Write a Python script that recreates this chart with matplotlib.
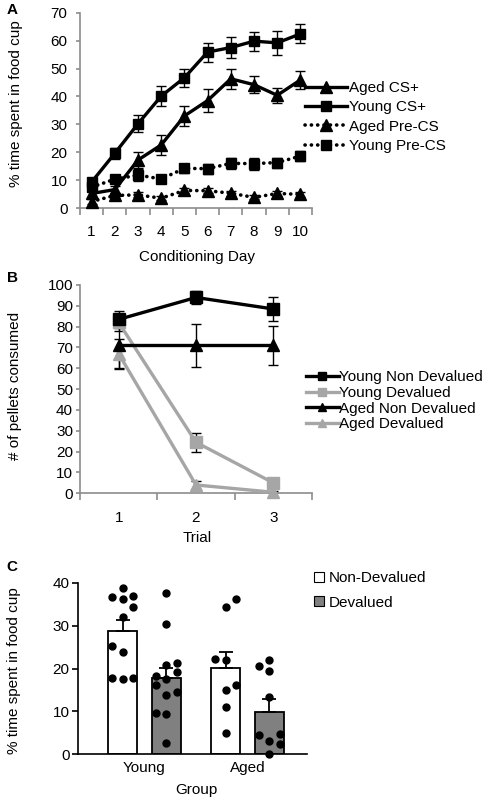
import numpy as np
import matplotlib
matplotlib.use("Agg")
import matplotlib.pyplot as plt
from matplotlib.patches import Patch

plt.rcParams['font.family'] = ['Liberation Sans', 'DejaVu Sans']
plt.rcParams['font.size'] = 11

# ---------------- Panel A data ----------------
days = [1, 2, 3, 4, 5, 6, 7, 8, 9, 10]
aged_cs = [5.2, 6.6, 17.2, 22.6, 33.0, 38.5, 46.3, 44.2, 40.4, 45.9]
aged_cs_err = [1.2, 1.2, 2.8, 3.5, 3.6, 4.0, 3.5, 3.1, 2.7, 3.1]
young_cs = [9.3, 19.6, 30.2, 40.1, 46.7, 55.9, 57.5, 59.8, 59.2, 62.4]
young_cs_err = [1.5, 2.0, 3.0, 3.5, 3.2, 3.4, 3.7, 3.4, 4.2, 3.4]
aged_pre = [2.3, 4.5, 4.7, 3.5, 6.3, 6.2, 5.3, 3.8, 5.2, 4.9]
aged_pre_err = [0.8, 0.8, 0.9, 0.7, 1.0, 1.0, 0.9, 0.7, 0.9, 0.9]
young_pre = [7.5, 10.3, 11.8, 10.4, 14.2, 14.1, 16.0, 15.9, 16.3, 18.6]
young_pre_err = [1.5, 1.5, 2.0, 1.5, 1.5, 1.8, 2.0, 2.2, 1.8, 1.8]

# ---------------- Panel B data ----------------
trials = [1, 2, 3]
young_nd = [83.5, 94.0, 88.5]
young_nd_err = [4.0, 3.3, 5.8]
young_d = [82.0, 24.5, 5.0]
young_d_err = [4.0, 4.5, 1.5]
aged_nd = [71.0, 71.0, 71.0]
aged_nd_err = [11.5, 10.5, 9.3]
aged_d = [67.0, 4.0, 0.5]
aged_d_err = [7.0, 2.0, 0.5]

# ---------------- Panel C data ----------------
groups = ['Young', 'Aged']
nd_means = [28.8, 20.2]
nd_sem = [2.5, 3.7]
d_means = [17.7, 9.9]
d_sem = [2.5, 3.0]
young_nd_pts = [38.7, 37.0, 36.6, 36.2, 34.3, 32.1, 25.3, 23.8, 17.7, 17.5, 17.7]
young_nd_cols = [0, 1, -1, 0, 1, 0, -1, 0, -1, 0, 1]
young_d_pts = [37.5, 30.3, 20.8, 21.2, 19.1, 18.3, 17.6, 16.2, 14.6, 13.8, 9.7, 9.4, 2.6]
young_d_cols = [0, 0, 0, 1, 1, -1, 0, -1, 1, 0, -1, 0, 0]
aged_nd_pts = [36.2, 34.4, 22.2, 22.0, 16.2, 15.1, 11.1, 4.9]
aged_nd_cols = [1, 0, -1, 0, 1, 0, 0, 0]
aged_d_pts = [22.0, 20.6, 19.4, 13.4, 4.5, 4.7, 3.1, 2.3, 0.1]
aged_d_cols = [0, -1, 0, 0, -1, 1, 0, 1, 0]

W, H = 490, 802
fig = plt.figure(figsize=(W / 100, H / 100), dpi=100)
AX_GRAY = '#8c8c8c'
LGRAY = '#a6a6a6'


def px_axes(left, top, right, bottom):
    return fig.add_axes([left / W, 1 - bottom / H, (right - left) / W, (bottom - top) / H])


def excel_style(ax, n):
    for s in ['top', 'right']:
        ax.spines[s].set_visible(False)
    for s in ['left', 'bottom']:
        ax.spines[s].set_color(AX_GRAY)
        ax.spines[s].set_linewidth(1.2)
    ax.set_xlim(0.5, n + 0.5)
    ax.set_xticks(np.arange(1, n + 1))
    ax.set_xticks(np.arange(0.5, n + 1), minor=True)
    ax.tick_params(axis='x', which='major', length=0, pad=12, labelsize=11)
    ax.tick_params(axis='x', which='minor', length=5, color=AX_GRAY, width=1.2, direction='out')
    ax.tick_params(axis='y', length=3, color=AX_GRAY, width=1.2, direction='out', pad=6, labelsize=11)


# ---------------- Panel A ----------------
axA = px_axes(80, 12.7, 312, 208)
excel_style(axA, len(days))
axA.set_ylim(0, 70)
axA.set_yticks(np.arange(0, 71, 10))

err_kw = dict(ecolor='black', elinewidth=1.0, capsize=3.5, capthick=1.0, zorder=2)
dot_ls = (0, (0.05, 1.7))
axA.errorbar(days, young_pre, yerr=young_pre_err, fmt='none', **err_kw)
axA.errorbar(days, aged_pre, yerr=aged_pre_err, fmt='none', **err_kw)
axA.errorbar(days, aged_cs, yerr=aged_cs_err, fmt='none', **err_kw)
axA.errorbar(days, young_cs, yerr=young_cs_err, fmt='none', **err_kw)
lA1, = axA.plot(days, aged_cs, '-', color='black', lw=2.4, marker='^', ms=8, label='Aged CS+', zorder=3, clip_on=False)
lA2, = axA.plot(days, young_cs, '-', color='black', lw=2.4, marker='s', ms=7.5, label='Young CS+', zorder=3, clip_on=False)
lA3, = axA.plot(days, aged_pre, linestyle=dot_ls, color='black', lw=2.6, dash_capstyle='round',
                marker='^', ms=8, label='Aged Pre-CS', zorder=3, clip_on=False)
lA4, = axA.plot(days, young_pre, linestyle=dot_ls, color='black', lw=2.6, dash_capstyle='round',
                marker='s', ms=7.5, label='Young Pre-CS', zorder=3, clip_on=False)
axA.set_xlabel('Conditioning Day', fontsize=11)
axA.xaxis.set_label_coords(0.503, -0.215)
axA.set_ylabel('% time spent in food cup', fontsize=11)
axA.yaxis.set_label_coords(-0.245, 0.535)
fig.legend(handles=[lA1, lA2, lA3, lA4], loc='upper left',
           bbox_to_anchor=(305 / W, 1 - 81 / H), frameon=False, fontsize=11,
           handlelength=2.75, handletextpad=0.15, labelspacing=0.35, borderpad=0,
           borderaxespad=0)

# ---------------- Panel B ----------------
axB = px_axes(80, 285, 312, 493.3)
excel_style(axB, len(trials))
axB.set_ylim(0, 100)
axB.set_yticks(np.arange(0, 101, 10))
axB.tick_params(axis='y', pad=2)
axB.tick_params(axis='x', which='major', pad=13)
errB = dict(ecolor='black', elinewidth=1.0, capsize=3.5, capthick=1.0, zorder=2)
axB.errorbar(trials, aged_nd, yerr=aged_nd_err, fmt='none', **errB)
axB.errorbar(trials, young_nd, yerr=young_nd_err, fmt='none', **errB)
axB.errorbar(trials, young_d, yerr=young_d_err, fmt='none', **errB)
axB.errorbar(trials, aged_d, yerr=aged_d_err, fmt='none', **errB)
lB4, = axB.plot(trials, aged_d, '-', color=LGRAY, lw=2.4, marker='^', ms=8, label='Aged Devalued', zorder=3, clip_on=False)
lB2, = axB.plot(trials, young_d, '-', color=LGRAY, lw=2.4, marker='s', ms=8, label='Young Devalued', zorder=3, clip_on=False)
lB3, = axB.plot(trials, aged_nd, '-', color='black', lw=2.4, marker='^', ms=8, label='Aged Non Devalued', zorder=4, clip_on=False)
lB1, = axB.plot(trials, young_nd, '-', color='black', lw=2.4, marker='s', ms=8, label='Young Non Devalued', zorder=4, clip_on=False)
axB.set_xlabel('Trial', fontsize=11)
axB.xaxis.set_label_coords(0.503, -0.18)
axB.set_ylabel('# of pellets consumed', fontsize=11)
axB.yaxis.set_label_coords(-0.25, 0.517)
fig.legend(handles=[lB1, lB2, lB3, lB4], loc='upper left',
           bbox_to_anchor=(306 / W, 1 - 370.5 / H), frameon=False, fontsize=11,
           handlelength=2.15, handletextpad=0.0, labelspacing=0.1, borderpad=0,
           borderaxespad=0, markerscale=0.8)

# ---------------- Panel C ----------------
axC = px_axes(78, 582.7, 307, 754.3)
for s in ['top', 'right']:
    axC.spines[s].set_visible(False)
for s in ['left', 'bottom']:
    axC.spines[s].set_linewidth(1.2)
gx = np.arange(len(groups))
bw = 0.2816
off = 0.2112
dot_dx = 0.1
axC.set_xlim(-0.646, 1.578)
axC.set_ylim(0, 40)
axC.set_yticks(np.arange(0, 41, 10))
axC.tick_params(axis='y', length=4, width=1.2, pad=2, labelsize=11)
axC.tick_params(axis='x', length=0, pad=5, labelsize=11)
axC.set_xticks(gx)
axC.set_xticklabels(groups)
axC.bar(gx - off, nd_means, width=bw, color='white', edgecolor='black', lw=1.3,
        label='Non-Devalued', zorder=2)
axC.bar(gx + off, d_means, width=bw, color='#808080', edgecolor='black', lw=1.3,
        label='Devalued', zorder=2)
axC.errorbar(gx - off, nd_means, yerr=[np.zeros(2), nd_sem], fmt='none', ecolor='black',
             elinewidth=1.3, capsize=5, capthick=1.3, zorder=3)
axC.errorbar(gx + off, d_means, yerr=[np.zeros(2), d_sem], fmt='none', ecolor='black',
             elinewidth=1.3, capsize=5, capthick=1.3, zorder=3)
for center, pts, cols in [(gx[0] - off, young_nd_pts, young_nd_cols),
                          (gx[0] + off, young_d_pts, young_d_cols),
                          (gx[1] - off, aged_nd_pts, aged_nd_cols),
                          (gx[1] + off, aged_d_pts, aged_d_cols)]:
    axC.plot(center + np.array(cols) * dot_dx, pts, 'o', color='black', ms=5,
             zorder=4, clip_on=False)
axC.set_xlabel('Group', fontsize=11)
axC.xaxis.set_label_coords(0.515, -0.17)
axC.set_ylabel('% time spent in food cup', fontsize=11)
axC.yaxis.set_label_coords(-0.249, 0.49)
fig.legend(handles=[Patch(facecolor='white', edgecolor='black', lw=0.8, label='Non-Devalued'),
                    Patch(facecolor='#808080', edgecolor='black', lw=0.8, label='Devalued')],
           loc='upper left', bbox_to_anchor=(314 / W, 1 - 571 / H), frameon=False, fontsize=11,
           handlelength=0.65, handleheight=0.65, handletextpad=0.3, labelspacing=0.7,
           borderpad=0, borderaxespad=0)

# panel letters
for letter, y in [('A', 10), ('B', 278), ('C', 567)]:
    fig.text(12 / W, 1 - y / H, letter, fontsize=11, fontweight='bold', ha='center', va='center')

fig.savefig('out.png', dpi=100)
